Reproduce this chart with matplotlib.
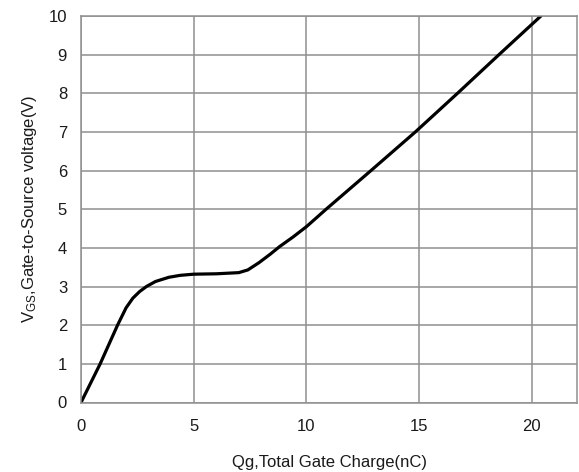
import matplotlib
matplotlib.use("Agg")
import matplotlib.pyplot as plt

plt.rcParams['font.family'] = ['Liberation Sans', 'DejaVu Sans']
plt.rcParams['mathtext.fontset'] = 'custom'
plt.rcParams['mathtext.rm'] = 'Liberation Sans'

# Data
qg_nc = [0, 0.85, 1.62, 2.0, 2.3, 2.6, 2.9, 3.3, 3.9, 4.4, 5.0, 6.0, 7.0, 7.4,
         7.9, 8.4, 8.8, 9.4, 10.0, 10.87, 12.86, 14.83, 16.7, 18.54, 20.4]
vgs_v = [0, 1.0, 2.0, 2.45, 2.7, 2.87, 3.0, 3.13, 3.24, 3.29, 3.32, 3.33, 3.36, 3.43,
         3.62, 3.84, 4.03, 4.28, 4.55, 5.0, 6.0, 7.0, 8.0, 9.0, 10.0]
x_ticks = [0, 5, 10, 15, 20]
y_ticks = [0, 1, 2, 3, 4, 5, 6, 7, 8, 9, 10]

fig = plt.figure(figsize=(5.79, 4.72), dpi=100)
ax = fig.add_axes([81/579, (472-402.5)/472, (577-81)/579, (402.5-16)/472])

grid_col = '#8f8f8f'
ax.set_xlim(0, 22)
ax.set_ylim(0, 10)
ax.set_xticks(x_ticks)
ax.set_yticks(y_ticks)
ax.grid(True, color=grid_col, linewidth=1.1)
ax.set_axisbelow(True)
for s in ax.spines.values():
    s.set_color(grid_col)
    s.set_linewidth(1.1)
ax.tick_params(length=0, labelsize=12, colors='#1a1a1a')
ax.tick_params(axis='y', pad=10)
ax.tick_params(axis='x', pad=12)

ax.plot(qg_nc, vgs_v, color='black', linewidth=2.3, solid_joinstyle='round',
        solid_capstyle='round')

ax.set_xlabel('Qg,Total Gate Charge(nC)', fontsize=12, color='#1a1a1a', labelpad=15)
ax.set_ylabel(r'$\mathrm{V_{GS}}$,Gate-to-Source voltage(V)', fontsize=12,
              color='#1a1a1a', labelpad=7)

fig.savefig('out.png', dpi=100)
